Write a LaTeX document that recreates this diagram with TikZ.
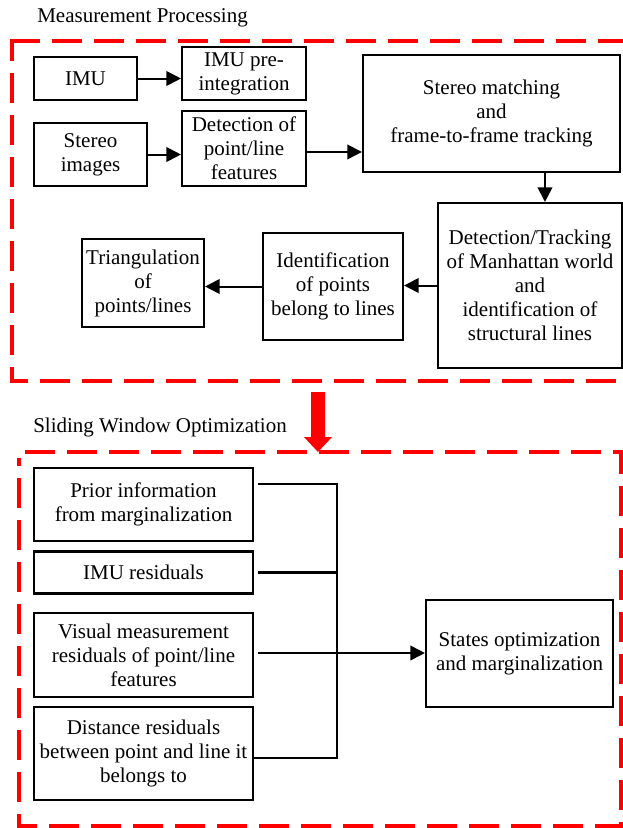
\documentclass[tikz,border=0pt]{standalone}
\usepackage{fontspec}
\setmainfont{Liberation Serif}
\usetikzlibrary{arrows.meta,calc}
\newdimen\pxu \pxu=0.75pt
\tikzset{
  txt/.style={font=\fontsize{15.75}{18}\selectfont},
  box/.style={draw, line width=1.6pt, align=center, inner sep=0pt, txt},
  sz/.style 2 args={minimum width=#1*\pxu, minimum height=#2*\pxu},
  arr/.style={line width=1.5pt, -{Triangle[length=11pt,width=11pt]}},
  bus/.style={line width=1.1pt},
  busthick/.style={line width=1.9pt},
  frame/.style={draw=red, line width=2.4pt, dash pattern=on 22.5pt off 9pt},
  caption/.style={anchor=base west, inner sep=0pt, txt}
}
\begin{document}
\begin{tikzpicture}[x=0.75pt, y=-0.75pt]
\useasboundingbox (0,0) rectangle (622,828);

% ---------- Measurement processing ----------
\node[caption] (mcap) at (37,22) {Measurement Processing};
\draw[frame] (10,41) -- (626,41) -- (626,381) -- (12,381) -- (12,41);

\node[box, sz={103}{43}]  (imu)    at (85.5,78.5)  {IMU};
\node[box, sz={124}{53}]  (preint) at (244,73.5)   {IMU pre-\\integration};
\node[box, sz={113}{63}]  (stereo) at (90.5,154.5) {Stereo\\images};
\node[box, sz={124}{75}]  (detect) at (244,148.5)  {Detection of\\point/line\\features};
\node[box, sz={257}{117}] (match)  at (491.5,113.5) {Stereo matching\\and\\frame-to-frame tracking};
\node[box, sz={184}{165}] (manh)   at (530,285.5)  {Detection/Tracking\\of Manhattan world\\and\\identification of\\structural lines};
\node[box, sz={140}{107}] (ident)  at (333,286.5)  {Identification\\of points\\belong to lines};
\node[box, sz={122}{88}]  (tri)    at (143,283)    {Triangulation\\of\\points/lines};

\draw[arr] (imu.east) -- (imu.east -| preint.west);
\draw[arr] (stereo.east) -- (stereo.east -| detect.west);
\coordinate (d1) at ([yshift=-2.6pt]detect.east);
\draw[arr] (d1) -- (d1 -| match.west);
\coordinate (m1) at ([xshift=40.1pt]match.south);
\draw[arr] (m1) -- (m1 |- manh.north);
\draw[arr] (manh.west) -- (manh.west -| ident.east);
\draw[arr] (ident.west) -- (ident.west -| tri.east);

% ---------- transition arrow ----------
\fill[red] (311,392) -- (325,392) -- (325,437) -- (332,437) -- (318,452)
           -- (304,437) -- (311,437) -- cycle;

% ---------- Sliding window optimization ----------
\node[caption] (scap) at (33,432) {Sliding Window Optimization};
\draw[frame] (25,452) -- (621,452) -- (621,826) -- (19,826) -- (19,458);

\node[box, sz={219}{73}]  (prior)  at (143.5,504.5) {Prior information\\from marginalization};
\node[box, sz={219}{42}]  (imures) at (143.5,572.5) {IMU residuals};
\node[box, sz={219}{84}]  (visual) at (143.5,655)   {Visual measurement\\residuals of point/line\\features};
\node[box, sz={219}{93}]  (dist)   at (143.5,753.5) {Distance residuals\\between point and line it\\belongs to};
\node[box, sz={187}{107}] (states) at (519.5,653.5) {States optimization\\and marginalization};

\coordinate (bx) at (337,0);
\coordinate (p1) at ([xshift=3pt, yshift=15.4pt]prior.east);
\coordinate (q1) at ([yshift=-3.4pt]dist.east);
\coordinate (i1) at ([xshift=3pt]imures.east);
\coordinate (v1) at ([xshift=3pt, yshift=1.5pt]visual.east);
\draw[bus] (p1) -- (p1 -| bx) -- (bx |- q1) -- (q1);
\draw[busthick] (i1) -- (i1 -| bx);
\draw[busthick, arr] (v1) -- (v1 -| states.west);
\end{tikzpicture}
\end{document}
